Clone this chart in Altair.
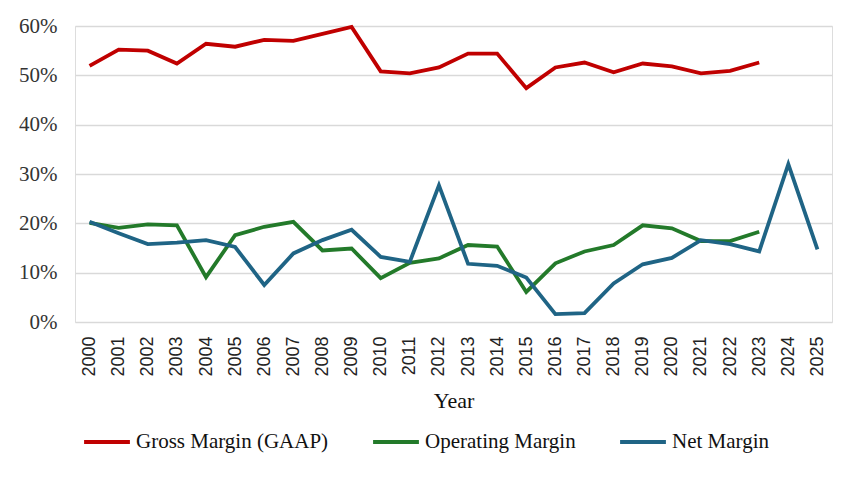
import pandas as pd
import altair as alt

years = [str(y) for y in range(2000, 2026)]

gross_margin = [51.9, 55.2, 55.0, 52.4, 56.4, 55.8, 57.2, 57.0, 58.4, 59.8,
                50.8, 50.4, 51.6, 54.4, 54.4, 47.4, 51.6, 52.6, 50.6, 52.4,
                51.8, 50.4, 50.9, 52.6, None, None]
operating_margin = [20.1, 19.1, 19.8, 19.6, 9.1, 17.6, 19.3, 20.3, 14.5, 14.9,
                    8.9, 12.0, 12.9, 15.6, 15.3, 6.1, 11.9, 14.3, 15.6, 19.6,
                    19.0, 16.4, 16.4, 18.3, None, None]
net_margin = [20.3, 18.0, 15.8, 16.1, 16.6, 15.2, 7.5, 13.9, 16.6, 18.7,
              13.2, 12.2, 27.7, 11.8, 11.4, 9.0, 1.6, 1.8, 7.8, 11.7,
              13.0, 16.6, 15.8, 14.3, 32.0, 14.7]

series = ["Gross Margin (GAAP)", "Operating Margin", "Net Margin"]
colors = ["#C00000", "#237A2A", "#1F6485"]

rows = []
for name, vals in zip(series, [gross_margin, operating_margin, net_margin]):
    for yr, v in zip(years, vals):
        if v is not None:
            rows.append({"Year": yr, "Series": name, "Value": v / 100})
df = pd.DataFrame(rows)

chart = alt.Chart(df).mark_line(strokeWidth=3.8).encode(
    x=alt.X("Year:N", sort=years, title="Year",
            axis=alt.Axis(labelAngle=-90, labelFont="Liberation Sans",
                          labelFontSize=18, labelColor="#222",
                          labelPadding=14, ticks=False, domain=False,
                          grid=False,
                          titleFont="Liberation Serif", titleFontSize=22,
                          titleFontWeight="normal", titleColor="#111",
                          titlePadding=14)),
    y=alt.Y("Value:Q", scale=alt.Scale(domain=[0, 0.6]), title=None,
            axis=alt.Axis(format=".0%", values=[0, 0.1, 0.2, 0.3, 0.4, 0.5, 0.6],
                          labelFont="Liberation Serif", labelFontSize=21,
                          labelColor="#333", labelPadding=18,
                          ticks=False, domain=False,
                          gridColor="#d9d9d9", gridWidth=1.5)),
    color=alt.Color("Series:N", sort=series,
                    scale=alt.Scale(domain=series, range=colors),
                    legend=alt.Legend(orient="none", legendX=7, legendY=391,
                                      direction="horizontal", padding=0,
                                      title=None, symbolType="stroke",
                                      symbolSize=2100, symbolStrokeWidth=4,
                                      labelFont="Liberation Serif",
                                      labelFontSize=21, labelColor="#111",
                                      labelLimit=400,
                                      columnPadding=36, labelOffset=4)),
).properties(width=757, height=296,
             padding={"left": 10, "top": 7, "right": 5, "bottom": 5})

chart = chart.configure_view(stroke=None).configure(background="white")

chart.save("out.html", embed_options={"renderer": "svg", "actions": False})
